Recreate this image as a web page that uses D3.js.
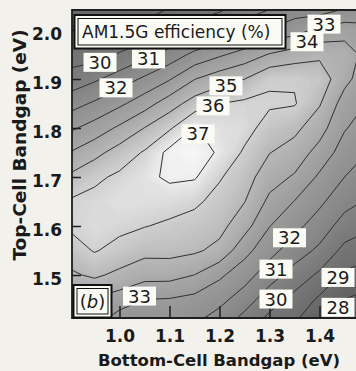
<!DOCTYPE html>
<html><head><meta charset="utf-8">
<script src="https://cdn.jsdelivr.net/npm/d3@7"></script>
<style>
html,body{margin:0;padding:0;background:#f2f1ec;}
svg{display:block;}
text{font-family:"DejaVu Sans",sans-serif;fill:#1a1a1a;}
</style></head><body>
<svg id="chart" width="356" height="371"></svg>
<script>
// Bottom-cell bandgap grid (eV)
const bottomGap = [0.90, 0.95, 1.00, 1.05, 1.10, 1.15, 1.20, 1.25, 1.30, 1.35, 1.40, 1.45, 1.50];
// Top-cell bandgap grid (eV), low to high
const topGap = [1.40, 1.45, 1.50, 1.55, 1.60, 1.65, 1.70, 1.75, 1.80, 1.85, 1.90, 1.95, 2.00, 2.05];
// AM1.5G tandem efficiency (%), one row per top-cell bandgap
const efficiency = [
  [33.20, 33.13, 32.30, 32.18, 32.39, 32.02, 31.43, 30.45, 29.61, 29.00, 27.78, 27.19, 26.90], // 1.40
  [34.02, 33.89, 33.53, 33.00, 32.94, 32.71, 32.29, 31.51, 30.43, 29.70, 28.83, 27.98, 27.70], // 1.45
  [34.83, 35.17, 34.76, 34.37, 34.36, 33.99, 33.18, 32.42, 31.45, 30.60, 29.82, 28.83, 28.50], // 1.50
  [35.51, 36.07, 35.68, 35.29, 35.31, 35.15, 34.73, 33.32, 32.34, 31.49, 30.80, 29.72, 29.35], // 1.55
  [36.14, 36.43, 36.24, 36.04, 35.83, 35.62, 35.30, 34.39, 33.03, 32.28, 31.53, 30.58, 30.15], // 1.60
  [36.10, 36.30, 36.60, 36.55, 36.42, 36.18, 35.68, 35.03, 33.77, 32.97, 32.20, 31.34, 30.85], // 1.65
  [35.17, 35.79, 36.19, 36.70, 37.20, 37.11, 36.09, 35.44, 34.42, 33.89, 32.83, 32.00, 31.45], // 1.70
  [34.02, 34.68, 35.43, 36.10, 37.30, 37.55, 36.85, 35.85, 35.03, 34.59, 33.63, 32.54, 31.95], // 1.75
  [32.80, 33.41, 34.18, 35.02, 35.86, 37.06, 36.60, 36.39, 35.56, 35.24, 34.42, 33.08, 32.45], // 1.80
  [31.58, 32.14, 32.79, 33.56, 34.52, 35.44, 35.99, 36.19, 36.15, 36.08, 35.09, 33.55, 32.90], // 1.85
  [30.35, 30.84, 31.47, 32.17, 32.92, 33.97, 34.56, 34.99, 35.85, 35.90, 35.60, 34.30, 33.30], // 1.90
  [29.55, 29.60, 30.11, 30.71, 31.39, 32.26, 32.84, 33.40, 34.07, 34.47, 34.80, 34.55, 33.55], // 1.95
  [29.10, 28.95, 28.90, 29.28, 29.87, 30.48, 31.09, 31.63, 32.05, 32.60, 33.20, 33.55, 33.30], // 2.00
  [28.60, 28.40, 28.40, 28.60, 28.90, 29.20, 29.60, 30.24, 30.79, 31.31, 31.21, 31.78, 32.20]  // 2.05
];
// Contour levels drawn as lines (%)
const levels = [28, 29, 30, 31, 32, 33, 34, 35, 36, 37];
// Axis ticks
const xTicks = [1.0, 1.1, 1.2, 1.3, 1.4];
const yTicks = [1.5, 1.6, 1.7, 1.8, 1.9, 2.0];
// In-plot contour labels: level and where it sits (bottom gap, top gap)
const labelLevel = [30, 31, 32, 33, 34, 35, 36, 37, 32, 31, 30, 29, 28, 33];
const labelBottom = [0.961, 1.058, 0.993, 1.409, 1.375, 1.213, 1.187, 1.157, 1.340, 1.313, 1.313, 1.437, 1.437, 1.040];
const labelTop = [1.934, 1.941, 1.882, 2.012, 1.976, 1.886, 1.845, 1.788, 1.576, 1.512, 1.451, 1.495, 1.434, 1.457];

const svg = d3.select("#chart");
const box = {left: 72, right: 358, top: 10, bottom: 318};

const x = d3.scaleLinear().domain([1.0, 1.4]).range([119.5, 319.5]);
const y = d3.scaleLinear().domain([1.5, 2.0]).range([275, 30]);

const nx = bottomGap.length, ny = topGap.length;
const dxGap = bottomGap[1] - bottomGap[0], dyGap = topGap[1] - topGap[0];
const grid = efficiency.flat();

// grid units -> pixels (each sample sits at the centre of its cell)
const proj = d3.geoTransform({
  point(gx, gy) {
    this.stream.point(x(bottomGap[0] + (gx - 0.5) * dxGap), y(topGap[0] + (gy - 0.5) * dyGap));
  }
});
const path = d3.geoPath(proj);

svg.append("clipPath").attr("id", "plotclip")
  .append("rect").attr("x", box.left).attr("y", box.top)
  .attr("width", box.right - box.left).attr("height", box.bottom - box.top);

const shade = d3.scaleLinear()
  .domain([27, 28, 30, 32, 34, 35, 36, 37, 37.6])
  .range(["#565656", "#626262", "#787878", "#8f8f8f", "#a7a7a7", "#b7b7b7", "#d0d0d0", "#ececec", "#f8f8f8"])
  .clamp(true);

const plot = svg.append("g").attr("clip-path", "url(#plotclip)");
plot.append("rect").attr("x", box.left).attr("y", box.top)
  .attr("width", box.right - box.left).attr("height", box.bottom - box.top)
  .attr("fill", shade(26));

// smooth shading: stacked fine-step iso-bands
const fine = d3.range(260, 380).map(d => d / 10);
const bands = d3.contours().size([nx, ny]).thresholds(fine)(grid);
plot.append("g").selectAll("path").data(bands).join("path")
  .attr("d", path)
  .attr("fill", d => shade(d.value + 0.05))
  .attr("stroke", d => shade(d.value + 0.05))
  .attr("stroke-width", 0.3);

// contour lines
const iso = d3.contours().size([nx, ny]).thresholds(levels)(grid);
plot.append("g").selectAll("path").data(iso).join("path")
  .attr("d", path)
  .attr("fill", "none")
  .attr("stroke", "#303030")
  .attr("stroke-width", 1)
  .attr("stroke-linejoin", "round");

// frame
const frame = svg.append("g").attr("stroke", "#1e1e1e").attr("stroke-width", 1.8).attr("fill", "none");
frame.append("path").attr("d", `M${box.right},${box.top}H${box.left}V${box.bottom}H${box.right}`);

// axes (inward ticks)
const xAxis = svg.append("g").attr("transform", `translate(0,${box.bottom})`)
  .call(d3.axisBottom(x).tickValues(xTicks).tickFormat(d3.format(".1f"))
    .tickSizeInner(-12).tickSizeOuter(0).tickPadding(12));
const yAxis = svg.append("g").attr("transform", `translate(${box.left},0)`)
  .call(d3.axisLeft(y).tickValues(yTicks).tickFormat(d3.format(".1f"))
    .tickSizeInner(-9).tickSizeOuter(0).tickPadding(10));
[xAxis, yAxis].forEach(a => {
  a.select(".domain").remove();
  a.selectAll(".tick line").attr("stroke", "#1e1e1e").attr("stroke-width", 1.5);
  a.selectAll(".tick text").attr("font-family", "DejaVu Sans").attr("font-weight", "bold")
    .attr("font-size", 17).attr("fill", "#1a1a1a");
});
yAxis.selectAll(".tick text").attr("dy", "0.55em");

// contour labels
const lab = svg.append("g");
labelLevel.forEach((lv, i) => {
  const cx = x(labelBottom[i]), cy = y(labelTop[i]);
  lab.append("rect").attr("x", cx - 16.5).attr("y", cy - 9.5).attr("width", 33).attr("height", 19)
    .attr("fill", "#fbfbf6");
  lab.append("text").attr("x", cx).attr("y", cy + 6.5).attr("text-anchor", "middle")
    .attr("font-size", 18).text(lv);
});

// title box
const tb = svg.append("g");
tb.append("rect").attr("x", 74.5).attr("y", 15).attr("width", 211).attr("height", 33.5)
  .attr("fill", "#fbfbf6").attr("stroke", "#111").attr("stroke-width", 2);
tb.append("rect").attr("x", 78).attr("y", 18.5).attr("width", 204).attr("height", 26.5)
  .attr("fill", "none").attr("stroke", "#111").attr("stroke-width", 1);
tb.append("text").attr("x", 82).attr("y", 38).attr("font-size", 17).text("AM1.5G efficiency (%)");

// panel tag
const pb = svg.append("g");
pb.append("rect").attr("x", 73.5).attr("y", 285).attr("width", 38).attr("height", 32.5)
  .attr("fill", "#fbfbf6").attr("stroke", "#111").attr("stroke-width", 2);
pb.append("rect").attr("x", 77).attr("y", 288.5).attr("width", 31).attr("height", 25.5)
  .attr("fill", "none").attr("stroke", "#111").attr("stroke-width", 1);
const bt = pb.append("text").attr("x", 92.5).attr("y", 308).attr("text-anchor", "middle").attr("font-size", 18);
bt.append("tspan").text("(");
bt.append("tspan").attr("font-style", "italic").text("b");
bt.append("tspan").text(")");

// axis titles
svg.append("text").attr("x", 219).attr("y", 366).attr("text-anchor", "middle")
  .attr("font-weight", "bold").attr("font-size", 16.5).text("Bottom-Cell Bandgap (eV)");
svg.append("text").attr("transform", "translate(26,145) rotate(-90)").attr("text-anchor", "middle")
  .attr("font-weight", "bold").attr("font-size", 18.5).text("Top-Cell Bandgap (eV)");
</script>
</body></html>
